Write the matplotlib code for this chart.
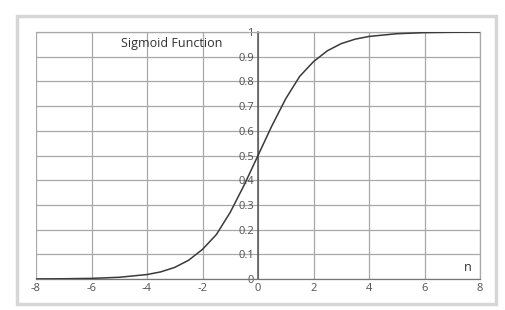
import matplotlib
matplotlib.use('Agg')
import matplotlib.pyplot as plt
from matplotlib.patches import Rectangle
from matplotlib.ticker import FormatStrFormatter, FuncFormatter

# values (n and sigmoid output)
n_values = [-8, -7, -6, -5, -4, -3.5, -3, -2.5, -2, -1.5, -1, -0.5, 0,
            0.5, 1, 1.5, 2, 2.5, 3, 3.5, 4, 5, 6, 7, 8]
s_values = [0.0003, 0.001, 0.0025, 0.007, 0.018, 0.029, 0.047, 0.076, 0.12,
            0.18, 0.27, 0.38, 0.5, 0.62, 0.73, 0.82, 0.88, 0.924, 0.953,
            0.971, 0.982, 0.993, 0.9975, 0.999, 0.9997]
x_ticks = [-8, -6, -4, -2, 0, 2, 4, 6, 8]
y_ticks = [0, 0.1, 0.2, 0.3, 0.4, 0.5, 0.6, 0.7, 0.8, 0.9, 1]

plt.rcParams['font.family'] = ['Open Sans', 'DejaVu Sans']

fig = plt.figure(figsize=(5.05, 3.10), dpi=100)
ax = fig.add_axes([36 / 505, 1 - 279 / 310, 444 / 505, 247 / 310])

# light grey outer frame
fig.patches.append(Rectangle((17 / 505, 1 - 304 / 310), 479 / 505, 288 / 310,
                             transform=fig.transFigure, facecolor='white',
                             edgecolor='#d6d6d6', linewidth=2.5, zorder=-1))

ax.plot(n_values, s_values, color='#3a3a3a', linewidth=1.1, zorder=3)

ax.set_xlim(-8, 8)
ax.set_ylim(0, 1)
ax.set_xticks(x_ticks)
ax.set_yticks(y_ticks)
ax.xaxis.set_major_formatter(FormatStrFormatter('%g'))
ax.yaxis.set_major_formatter(FuncFormatter(lambda v, p: '%g' % round(v, 1)))
ax.grid(True, color='#a8a8a8', linewidth=0.9)
ax.set_axisbelow(True)

ax.spines['left'].set_position(('data', 0))
ax.spines['left'].set_color('#555555')
ax.spines['left'].set_linewidth(1.1)
for side in ['top', 'right', 'bottom']:
    ax.spines[side].set_color('#a8a8a8')
    ax.spines[side].set_linewidth(0.9)
ax.spines['bottom'].set_color('#777777')

ax.tick_params(axis='both', length=0, labelsize=8, colors='#505050')
ax.tick_params(axis='y', pad=3)
ax.tick_params(axis='x', pad=3)
for lbl in ax.get_yticklabels():
    lbl.set_zorder(4)

ax.text(-3.1, 0.955, 'Sigmoid Function', fontsize=9, color='#303030',
        ha='center', va='center')
ax.text(7.55, 0.045, 'n', fontsize=9, color='#303030', ha='center', va='center')

fig.savefig('out.png', dpi=100, facecolor='white')
